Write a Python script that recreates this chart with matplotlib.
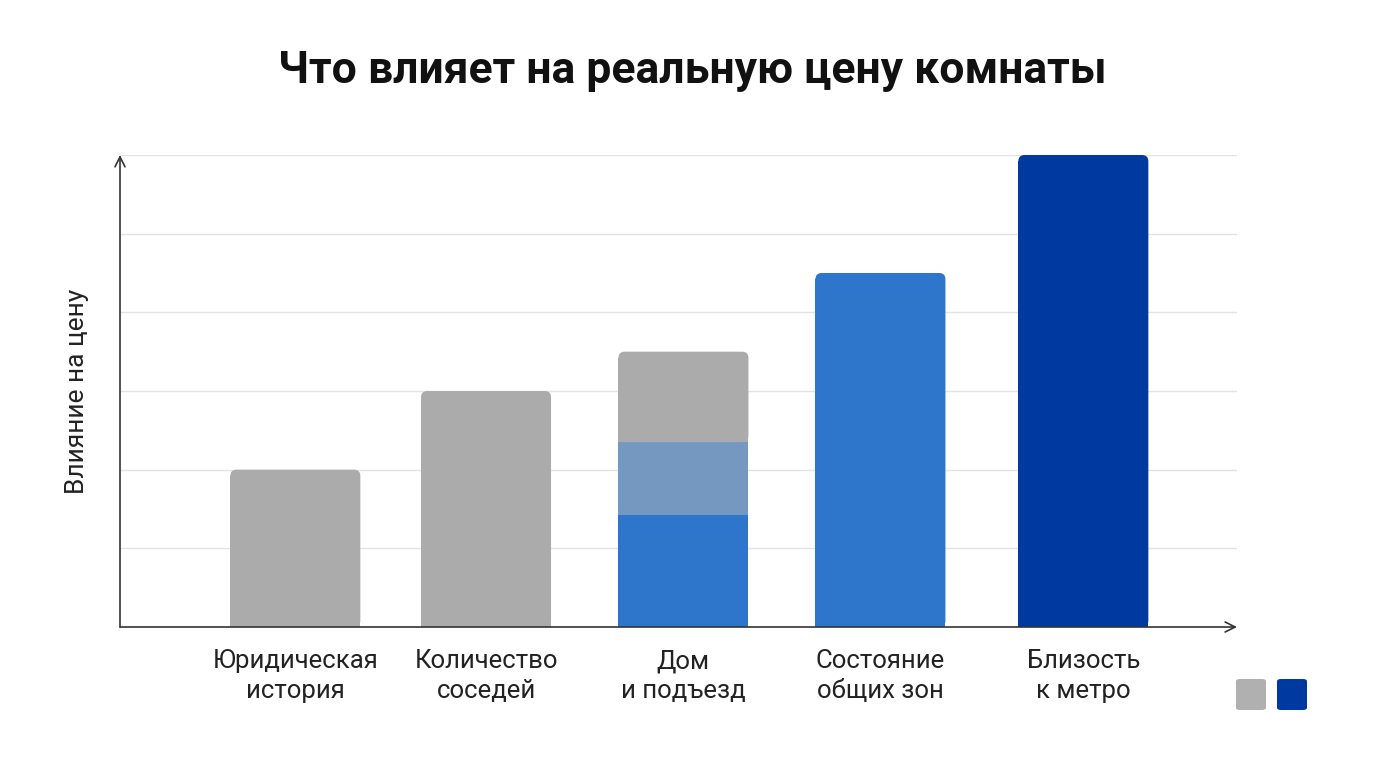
import matplotlib
matplotlib.use("Agg")
import matplotlib.pyplot as plt
from matplotlib.patches import FancyBboxPatch

plt.rcParams['font.family'] = ['Roboto', 'DejaVu Sans']

title = "Что влияет на реальную цену комнаты"
ylabel = "Влияние на цену"
categories = ["Юридическая\nистория", "Количество\nсоседей", "Дом\nи подъезд",
              "Состояние\nобщих зон", "Близость\nк метро"]
# stacked segments: blue part, blended part, gray part, dark blue part
blue_part = [0, 0, 1.43, 4.5, 0]
blend_part = [0, 0, 0.92, 0, 0]
gray_part = [2.0, 3.0, 1.15, 0, 0]
dark_part = [0, 0, 0, 0, 6.0]

# layout: category positions along x
xpos = [0, 0.968, 1.97, 2.97, 4]

c_gray = "#ababab"
c_blue = "#2e75cc"
c_blend = "#7598c0"
c_dark = "#0039a0"

W, H = 1376, 768
fig = plt.figure(figsize=(W / 100, H / 100), dpi=100)
ax = fig.add_axes([120 / W, 141 / H, (1237 - 120) / W, (627 - 155) / H])
ax.set_xlim(-0.89, 4.78)
ax.set_ylim(0, 6)

bw = 0.66
rx = 0.032
ry = 0.08

segments = []
bottom = [0.0] * len(xpos)
for vals, col in [(blue_part, c_blue), (blend_part, c_blend), (gray_part, c_gray)]:
    segments.append((vals, list(bottom), col))
    bottom = [b + v for b, v in zip(bottom, vals)]
segments.append((dark_part, [0.0] * len(xpos), c_dark))

# determine top segment of each bar
tops = {}
for si, (vals, bot, col) in enumerate(segments):
    for i, v in enumerate(vals):
        if v > 0:
            tops[i] = si

for si, (vals, bot, col) in enumerate(segments):
    for i, v in enumerate(vals):
        if v <= 0:
            continue
        if tops[i] == si:
            ax.bar(xpos[i], v - ry, width=bw, bottom=bot[i], color=col, zorder=3)
            p = FancyBboxPatch((xpos[i] - bw / 2, bot[i]), bw, v,
                               boxstyle=f"round,pad=0,rounding_size={rx}",
                               mutation_aspect=ry / rx,
                               facecolor=col, edgecolor="none", zorder=3)
            ax.add_patch(p)
        else:
            ax.bar(xpos[i], v, width=bw, bottom=bot[i], color=col, zorder=3)

for yv in range(1, 7):
    ax.axhline(yv, color="#e3e3e3", lw=1, zorder=1)

for s in ax.spines.values():
    s.set_visible(False)
ax.set_yticks([])
ax.set_xticks(xpos)
ax.set_xticklabels(categories, fontsize=18.5, color="#222222", linespacing=1.3)
ax.tick_params(axis='x', length=0, pad=16)

# arrow axes
ax.annotate("", xy=(0, 1.0), xytext=(0, 0), xycoords="axes fraction",
            arrowprops=dict(arrowstyle="->", color="#333333", lw=1.2,
                            mutation_scale=18, shrinkA=0, shrinkB=0), annotation_clip=False)
ax.annotate("", xy=(1.0, 0), xytext=(0, 0), xycoords="axes fraction",
            arrowprops=dict(arrowstyle="->", color="#333333", lw=1.2,
                            mutation_scale=18, shrinkA=0, shrinkB=0), annotation_clip=False)

ax.set_ylabel(ylabel, fontsize=19, color="#222222", labelpad=22)

fig.text(692 / W, 1 - 71 / H, title, ha="center", va="center",
         fontsize=32, fontweight="bold", color="#111111")

# legend swatches
for lx, col in [(1236, "#b0b0b0"), (1277, c_dark)]:
    p = FancyBboxPatch((lx / W, (768 - 710) / H), 30 / W, 31 / H,
                       boxstyle="round,pad=0,rounding_size=0.003",
                       transform=fig.transFigure, facecolor=col, edgecolor="none")
    fig.patches.append(p)

fig.savefig("out.png", dpi=100, facecolor="white")
